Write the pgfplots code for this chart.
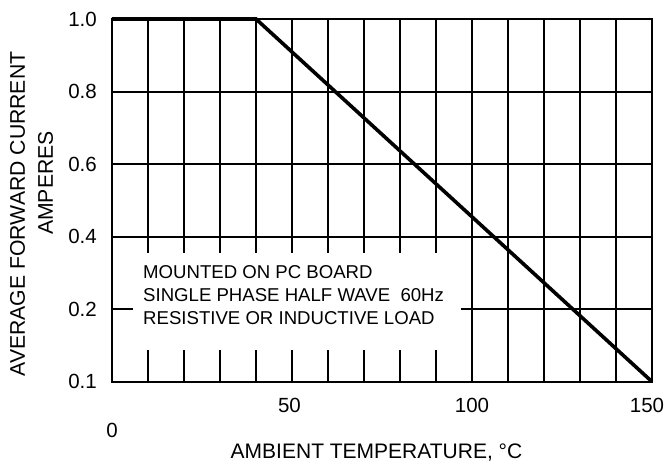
\documentclass[border=0pt]{standalone}
\usepackage{fontspec}
\setmainfont{Liberation Sans}
\usepackage{pgfplots}
\pgfplotsset{compat=1.18}
\begin{document}
\begin{tikzpicture}
\begin{axis}[
  scale only axis,
  width=540pt, height=362.7pt,
  xmin=0, xmax=150, ymin=0, ymax=1,
  clip=false,
  axis line style={line width=2pt},
  grid=major,
  grid style={black, line width=2pt},
  major tick length=0pt,
  xtick={0,10,...,150},
  xticklabels={,,,,,\hspace*{-5pt}50,,,,,100,,,,,\hspace*{-10pt}150},
  ytick={0,0.2,0.4,0.6,0.8,1.0},
  yticklabels={0.1,0.2,0.4,0.6,0.8,1.0},
  xticklabel style={font=\fontsize{20.5}{24}\selectfont, anchor=center, inner sep=0pt, yshift=-23.3pt},
  yticklabel style={font=\fontsize{20.5}{24}\selectfont, anchor=east, inner sep=0pt, xshift=-15pt},
  extra x ticks={0},
  extra x tick labels={0},
  extra x tick style={grid=none, xticklabel style={yshift=-25pt}},
]
\fill[white] (axis cs:5.83,0.0874) rectangle (axis cs:96.9,0.3545);
\addplot[black, line width=3.6pt, line join=miter] coordinates {(0,1.0) (40,1.0) (150,0)};
\coordinate (SW) at (rel axis cs:0,0);
\coordinate (NE) at (rel axis cs:1,1);
\end{axis}
\node[anchor=west, align=left, inner sep=0pt, font=\fontsize{18.6}{23}\selectfont]
  at ([shift={(31pt,86.7pt)}]SW) {MOUNTED ON PC BOARD\\SINGLE PHASE HALF WAVE\ \ 60Hz\\RESISTIVE OR INDUCTIVE LOAD};
\node[rotate=90, inner sep=0pt, font=\fontsize{21.2}{24}\selectfont]
  at ([shift={(-94.5pt,167.7pt)}]SW) {AVERAGE FORWARD CURRENT};
\node[rotate=90, inner sep=0pt, font=\fontsize{21.2}{24}\selectfont]
  at ([shift={(-66.5pt,198.7pt)}]SW) {AMPERES};
\node[inner sep=0pt, font=\fontsize{21}{24}\selectfont]
  at ([shift={(264.5pt,-71.3pt)}]SW) {AMBIENT TEMPERATURE, °C};
\pgfresetboundingbox
\path[use as bounding box] ([shift={(-112pt,-84.3pt)}]SW) rectangle ([shift={(14pt,19pt)}]NE);
\end{tikzpicture}
\end{document}
